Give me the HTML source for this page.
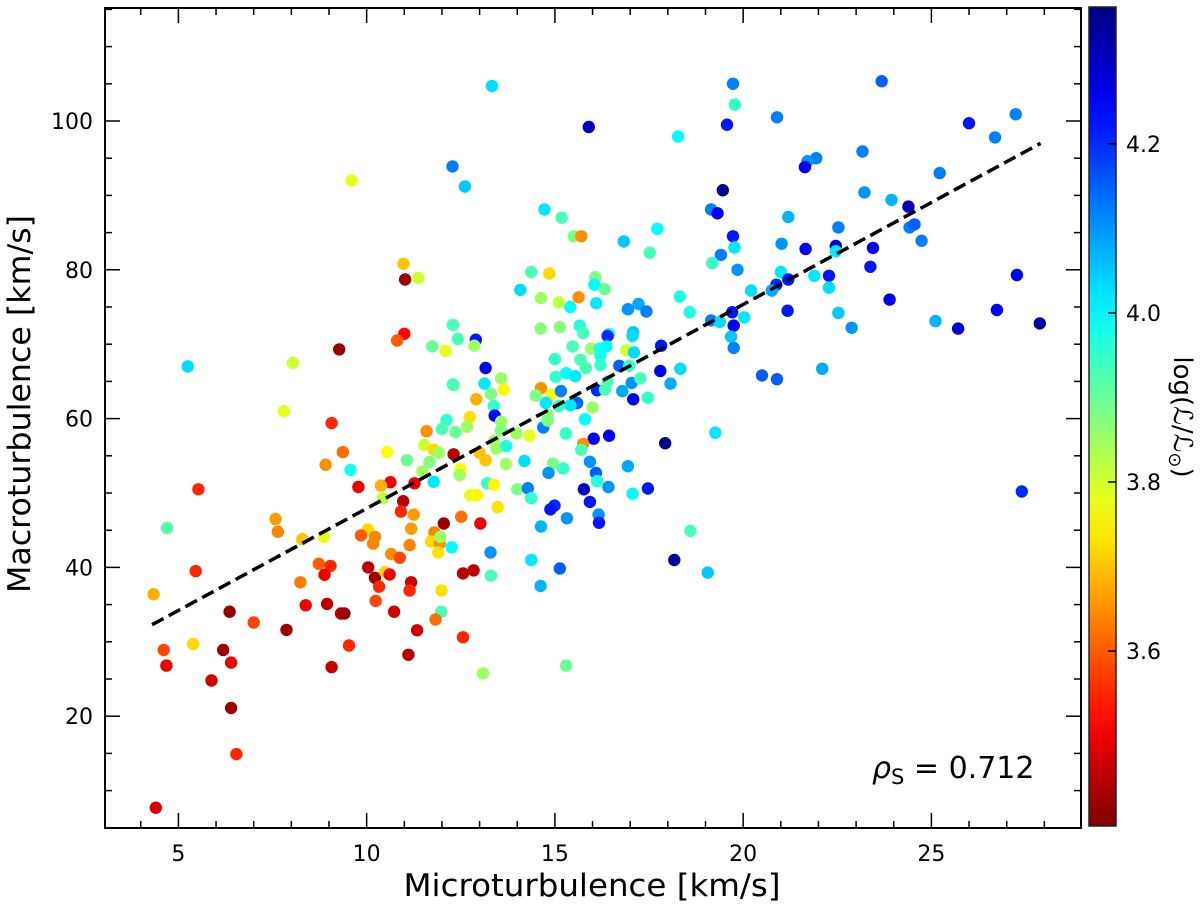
<!DOCTYPE html>
<html><head><meta charset="utf-8"><style>
html,body{margin:0;padding:0;background:#fff;}
svg{display:block;font-family:"DejaVu Sans","Liberation Sans",sans-serif;}
</style></head><body>
<svg id="chart" width="1200" height="908" viewBox="0 0 1200 908" xmlns="http://www.w3.org/2000/svg">
<defs><linearGradient id="jet" x1="0" y1="1" x2="0" y2="0"></linearGradient></defs>
<g id="points"></g>
<g id="fitline"></g>
<g id="axes"></g>
<rect x="105" y="8" width="976" height="820" fill="none" stroke="#000" stroke-width="2"/>
<rect x="1089" y="7" width="27" height="819" fill="url(#jet)" stroke="#222" stroke-width="1.5"/>
<g id="cbticks"></g>
<text x="592" y="896" font-size="31" text-anchor="middle" textLength="377" lengthAdjust="spacingAndGlyphs" font-family="DejaVu Sans, sans-serif">Microturbulence [km/s]</text>
<text transform="translate(30,404) rotate(-90)" font-size="31" text-anchor="middle" textLength="378" lengthAdjust="spacingAndGlyphs" font-family="DejaVu Sans, sans-serif">Macroturbulence [km/s]</text>
<text transform="translate(1174,417) rotate(90)" font-size="26" text-anchor="middle">log(ℒ/ℒ<tspan font-size="18" dy="5">⊙</tspan><tspan dy="-5">)</tspan></text>
<text x="872" y="778" font-size="30"><tspan font-style="italic">ρ</tspan><tspan font-size="21" dy="6">S</tspan><tspan dy="-6"> = 0.712</tspan></text>
</svg>
<script>
const microTurb=[7.8,9.07,9.37,8.91,5.53,4.7,7.58,7.64,8.29,8.86,8.73,9.04,8.88,5.46,8.24,4.34,8.38,8.95,6.36,7.0,9.32,7.87,4.61,5.39,4.68,6.19,6.4,5.88,6.4,6.54,4.4,9.07,
12.31,12.91,12.74,12.12,11.59,12.0,12.36,12.67,9.57,10.54,11.07,11.53,11.78,11.92,11.67,12.31,13.0,12.49,12.47,11.48,11.78,11.27,10.63,10.38,9.78,10.43,10.97,10.91,11.25,12.75,12.93,12.05,12.51,10.03,9.85,10.22,10.17,11.18,11.14,11.8,11.71,11.94,11.96,11.9,12.26,10.65,10.88,13.02,10.04,10.22,10.49,10.61,10.33,11.18,11.14,12.56,12.84,11.99,10.24,9.41,10.73,11.98,11.83,
11.34,12.56,9.53,11.11,13.09,
12.28,12.61,9.6,10.98,11.02,11.37,12.29,12.42,12.9,12.86,11.74,12.1,11.0,10.81,9.27,8.04,5.25,12.29,
14.72,15.18,15.5,15.7,16.83,17.72,17.52,14.37,14.85,14.08,16.07,16.05,16.32,14.63,15.11,15.63,15.41,16.1,16.94,17.22,17.43,18.32,18.58,14.62,15.13,15.66,15.75,16.44,16.4,17.08,17.06,15.47,15.96,16.19,16.37,16.9,17.1,17.82,15.0,15.68,16.21,15.82,16.21,16.71,16.97,17.8,18.33,15.3,15.54,15.02,13.57,13.16,13.13,13.3,13.64,14.63,14.9,15.16,14.49,14.76,15.59,16.12,16.33,16.4,16.79,17.04,17.27,17.08,17.47,18.07,13.38,13.4,15.11,15.41,16.0,15.8,14.81,
13.57,13.57,13.39,13.45,13.71,13.98,14.33,14.69,14.81,15.29,16.03,16.44,15.75,15.7,13.16,13.7,14.19,14.95,14.83,15.22,15.93,16.09,16.12,16.42,16.94,17.93,19.26,15.77,15.93,14.99,14.88,15.32,16.16,16.17,17.47,17.06,13.2,13.38,14.0,14.28,14.37,13.48,14.63,13.29,13.3,14.37,15.13,14.62,18.17,18.6,19.06,
19.73,19.78,19.57,20.9,23.68,26.0,27.24,26.69,23.17,21.94,21.71,21.64,25.22,23.22,23.94,24.39,24.42,24.55,24.74,19.46,19.15,19.32,21.2,22.53,19.73,19.77,19.41,19.18,19.85,21.02,21.66,22.46,22.46,23.45,23.38,22.28,21.89,21.0,21.2,20.88,20.76,20.21,22.28,23.89,21.18,22.53,22.88,20.03,19.71,19.75,19.15,19.38,19.68,19.75,25.11,25.71,26.74,27.27,27.88,
13.33,15.9,18.27,27.4,20.5,20.9,22.1,15.3];
const macroTurb=[61.0,59.4,55.5,53.8,50.5,45.3,46.5,44.8,43.8,44.1,40.5,40.2,39.0,39.5,38.0,36.4,34.9,35.1,34.05,32.6,33.8,31.6,28.9,29.7,26.8,28.9,27.2,24.8,21.1,14.9,7.7,26.6,
64.5,62.6,60.2,59.8,58.3,58.6,58.2,58.9,53.1,55.5,54.4,56.45,55.8,55.4,54.2,55.2,55.4,53.2,52.4,52.9,51.5,51.3,51.45,51.0,50.8,49.3,48.9,47.5,47.1,49.7,49.7,45.9,46.8,45.1,44.3,44.1,43.2,45.2,43.0,44.7,43.5,43.2,44.1,42.0,42.7,41.8,41.3,45.9,40.0,38.6,39.4,39.05,37.4,38.0,36.9,39.2,39.6,36.9,35.5,33.8,34.05,34.05,33.0,
31.55,30.6,29.5,28.25,25.75,
93.9,91.2,92.0,80.8,78.7,78.9,72.6,70.7,70.6,69.8,69.7,69.1,71.4,70.5,69.3,67.5,67.0,64.6,
88.1,87.0,84.5,84.5,83.8,85.5,82.3,79.7,79.5,77.3,79.0,78.0,77.4,76.2,75.6,76.3,75.0,75.5,74.7,75.4,74.4,76.4,74.3,72.1,72.3,72.5,71.5,71.4,71.1,71.6,71.1,69.7,69.4,69.4,69.7,69.2,68.9,69.8,68.0,67.9,68.5,66.8,67.2,67.1,67.1,66.4,66.7,66.1,65.7,65.6,65.4,66.8,64.7,63.3,63.9,64.1,63.2,63.7,63.1,62.1,62.1,63.8,63.9,65.0,63.7,64.8,65.4,62.6,62.8,64.7,61.7,60.4,61.7,61.8,61.5,59.9,60.5,
59.6,58.4,57.0,56.0,56.3,58.0,57.7,58.8,59.75,58.0,57.3,57.7,56.6,55.8,54.4,53.9,54.3,53.95,52.7,53.3,54.2,52.7,51.6,50.8,53.6,56.7,58.1,50.5,48.8,48.3,47.8,46.6,47.1,46.0,50.6,49.9,51.3,51.1,50.5,50.65,49.3,48.1,45.5,42.0,38.9,41.0,39.85,37.5,41.0,44.9,39.3,
105.0,102.2,99.5,100.5,105.35,99.7,100.9,97.8,95.9,95.0,94.6,93.8,93.0,90.4,89.4,88.5,85.7,86.1,83.9,90.7,88.1,87.6,87.1,85.7,84.5,83.0,82.0,80.9,80.0,83.5,82.8,83.2,82.5,82.95,80.4,79.2,79.2,79.7,78.7,78.0,77.2,77.2,77.6,76.0,74.5,74.2,72.2,73.6,74.3,72.5,73.2,73.0,71.0,69.5,73.1,72.1,74.6,79.3,72.8,
104.7,99.2,97.9,50.2,65.8,65.3,66.7,26.8];
const logLum=[3.78,3.55,3.62,3.65,3.55,3.92,3.66,3.64,3.7,3.78,3.6,3.55,3.5,3.55,3.63,3.68,3.5,3.45,3.42,3.58,3.45,3.42,3.58,3.72,3.5,3.42,3.5,3.47,3.42,3.55,3.48,3.46,
3.9,3.68,3.73,3.95,3.65,3.93,3.9,3.85,3.98,3.76,3.9,3.8,3.72,3.85,3.88,3.45,3.7,3.75,3.85,3.85,4.02,3.5,3.5,3.68,3.5,3.82,3.45,3.55,3.66,3.78,3.75,3.42,3.62,3.72,3.6,3.64,3.64,3.66,3.64,3.64,3.72,3.65,3.85,3.73,4.0,3.65,3.58,3.5,3.45,3.42,3.72,3.5,3.55,3.47,3.55,3.45,3.45,3.73,3.58,3.42,3.47,3.93,3.62,
3.47,3.55,3.55,3.45,3.85,
4.12,4.05,3.78,3.7,3.42,3.8,3.93,3.93,4.22,3.85,3.9,3.78,3.52,3.6,3.42,3.8,4.03,3.93,
4.02,3.93,3.88,3.65,4.05,4.0,3.93,3.93,3.72,4.03,3.88,4.0,3.9,3.85,3.82,3.65,4.0,4.02,4.1,4.08,4.12,3.97,3.97,3.87,3.87,3.97,3.93,3.95,4.2,4.05,4.03,3.93,3.85,3.97,4.0,3.8,4.03,4.22,3.95,3.93,3.98,3.93,3.95,4.15,3.95,4.25,4.03,4.0,4.02,3.95,3.85,4.25,4.02,3.88,3.75,3.65,3.77,4.12,3.88,4.02,4.15,4.2,3.93,3.93,4.08,4.1,3.93,4.25,3.95,4.08,3.95,4.25,3.95,4.02,3.85,4.0,3.85,
3.85,3.88,3.85,3.85,3.97,3.85,3.78,4.12,3.88,3.95,4.25,4.25,3.65,3.93,3.7,3.85,4.03,3.88,4.1,3.95,4.1,4.15,3.97,4.1,4.08,4.35,4.02,4.3,4.22,4.2,4.22,4.1,4.1,4.22,4.22,4.0,3.95,3.75,3.88,4.12,3.95,3.73,4.07,4.1,3.93,4.02,4.15,4.07,4.33,3.93,4.05,
4.12,3.95,4.22,4.12,4.15,4.22,4.12,4.12,4.12,4.12,4.1,4.25,4.12,4.1,4.07,4.3,4.12,4.15,4.12,4.35,4.12,4.25,4.07,4.12,4.22,4.02,4.12,3.95,4.1,4.1,4.25,4.28,4.02,4.25,4.22,4.22,4.02,4.02,4.22,4.2,4.08,4.03,4.03,4.25,4.22,4.05,4.1,4.02,4.22,4.25,4.12,4.03,4.05,4.12,4.07,4.28,4.25,4.25,4.33,
4.03,4.3,4.0,4.2,4.15,4.15,4.08,3.9];
const fitSlope=2.742, fitIntercept=20.5, fitRange=[4.3,27.9];
const xTicks=[5,10,15,20,25];
const yTicks=[20,40,60,80,100];
const cTicks=[3.6,3.8,4.0,4.2];
const cMin=3.393, cMax=4.362;

const NS="http://www.w3.org/2000/svg";
const X=v=>178.4+(v-5)*37.65;
const Y=v=>865-v*7.44;
const C=v=>826-(v-cMin)/(cMax-cMin)*819;
// reversed jet: low values red, high values blue
function jetR(t){t=1-Math.max(0,Math.min(1,t));const f=a=>Math.round(255*Math.max(0,Math.min(1,1.5-Math.abs(4*t-a))));return `rgb(${f(3)},${f(2)},${f(1)})`;}
function mk(tag,attrs,parent){const e=document.createElementNS(NS,tag);for(const k in attrs)e.setAttribute(k,attrs[k]);parent.appendChild(e);return e;}

const grad=document.getElementById('jet');
for(let i=0;i<=20;i++){mk('stop',{offset:(i/20),'stop-color':jetR(i/20)},grad);}

const pg=document.getElementById('points');
for(let i=0;i<microTurb.length;i++){
  const c=mk('circle',{cx:X(microTurb[i]).toFixed(1),cy:Y(macroTurb[i]).toFixed(1),r:6.2,fill:jetR((logLum[i]-cMin)/(cMax-cMin))},pg);
  
  
}
const fl=document.getElementById('fitline');
const ln=mk('line',{x1:X(fitRange[0]),y1:Y(fitIntercept+fitSlope*fitRange[0]),x2:X(fitRange[1]),y2:Y(fitIntercept+fitSlope*fitRange[1]),stroke:'#000','stroke-width':3.5,'stroke-dasharray':'13,6'},fl);



const ax=document.getElementById('axes');
const L=105,R=1081,T=8,B=828;
for(let v=4;v<=28;v++){const x=X(v);if(x<L||x>R)continue;const maj=v%5===0;const h=maj?15:7;
  mk('line',{x1:x,y1:B,x2:x,y2:B-h,stroke:'#000','stroke-width':1.5},ax);
  mk('line',{x1:x,y1:T,x2:x,y2:T+h,stroke:'#000','stroke-width':1.5},ax);}
for(let v=5;v<=115;v+=5){const y=Y(v);if(y<T||y>B)continue;const maj=v%20===0;const h=maj?15:7;
  mk('line',{x1:L,y1:y,x2:L+h,y2:y,stroke:'#000','stroke-width':1.5},ax);
  mk('line',{x1:R,y1:y,x2:R-h,y2:y,stroke:'#000','stroke-width':1.5},ax);}
xTicks.forEach(v=>{const t=mk('text',{x:X(v),y:861,'font-size':22,'text-anchor':'middle'},ax);t.textContent=v;
  
  });
yTicks.forEach(v=>{const t=mk('text',{x:93,y:Y(v)+8,'font-size':22,'text-anchor':'end'},ax);t.textContent=v;
  
  });
const cb=document.getElementById('cbticks');
cTicks.forEach(v=>{const y=C(v);mk('line',{x1:1116,y1:y,x2:1108,y2:y,stroke:'#000','stroke-width':1.5},cb);
  const t=mk('text',{x:1126,y:y+8,'font-size':22},cb);t.textContent=v.toFixed(1);
  
  });
</script>
</body></html>
